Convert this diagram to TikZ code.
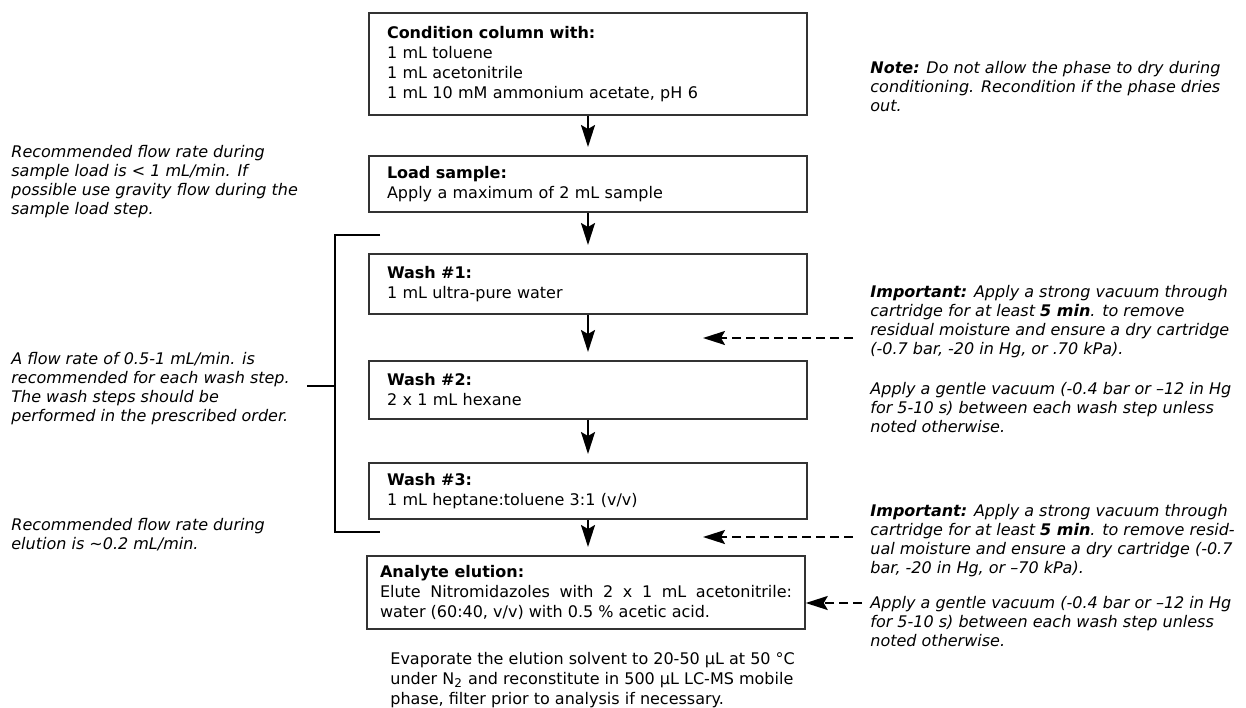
\documentclass[tikz,border=0pt]{standalone}
\usepackage{fontspec}
\setmainfont{DejaVu Sans}
\usetikzlibrary{arrows.meta}

\begin{document}
\begin{tikzpicture}[x=0.5pt,y=-0.5pt,
    >={Stealth[length=11pt,width=7pt,inset=2pt]},
    stepbox/.style={draw=black!80,line width=0.75pt,anchor=north,text width=201pt,
      inner xsep=9pt,inner ysep=0pt,align=left,font=\fontsize{8}{10}\selectfont},
    remark/.style={anchor=north west,inner sep=0pt,align=left,
      font=\fontsize{8}{9.5}\selectfont\itshape},
    flow/.style={->,line width=1pt,shorten >=4pt},
    vac/.style={->,line width=1pt,dash pattern=on 4.5pt off 2.5pt}]
    \useasboundingbox (0,0) rectangle (1246,707);
    % --- the steps, one under the other
    \node[stepbox,minimum height=51pt] (cond) at (588,12)
      {\textbf{Condition column with:}\\1 mL toluene\\1 mL acetonitrile\\1 mL 10 mM ammonium acetate, pH 6};
    \node[stepbox,minimum height=28pt] (load) at (588,155)
      {\textbf{Load sample:}\\Apply a maximum of 2 mL sample};
    \node[stepbox,minimum height=30pt] (wash1) at (588,253)
      {\textbf{Wash \#1:}\\1 mL ultra-pure water};
    \node[stepbox,minimum height=29pt] (wash2) at (588,360)
      {\textbf{Wash \#2:}\\2 x 1 mL hexane};
    \node[stepbox,minimum height=28pt] (wash3) at (588,462)
      {\textbf{Wash \#3:}\\1 mL heptane:toluene 3:1 (v/v)};
    \node[stepbox,minimum height=36.5pt,text width=206pt,inner xsep=6.5pt,align=justify] (elute) at (586,555)
      {\textbf{Analyte elution:}\\Elute Nitromidazoles with 2 x 1 mL acetonitrile:\linebreak water (60:40, v/v) with 0.5 \% acetic acid.};
    \node[anchor=north west,inner sep=0pt,align=left,font=\fontsize{8}{10}\selectfont] (evap) at (390,652)
      {Evaporate the elution solvent to 20-50 µL at 50 °C\\under N\textsubscript{2} and reconstitute in 500 µL LC-MS mobile\\phase, filter prior to analysis if necessary.};
    \draw[flow] (cond) -- (load);
    \draw[flow] (load) -- (wash1);
    \draw[flow] (wash1) -- (wash2);
    \draw[flow] (wash2) -- (wash3);
    \draw[flow] (wash3) -- (wash3 |- elute.north);
    % --- remarks on the left, bracket over the wash steps
    \node[remark] (rate1) at (11,145)
      {Recommended flow rate during\\sample load is < 1 mL/min. If\\possible use gravity flow during the\\sample load step.};
    \node[remark] (rate2) at (11,352)
      {A flow rate of 0.5-1 mL/min. is\\recommended for each wash step.\\The wash steps should be\\performed in the prescribed order.};
    \node[remark] (rate3) at (11,518)
      {Recommended flow rate during\\elution is \textasciitilde0.2 mL/min.};
    \draw[line width=1.3pt] (380,235) -| (335,532) -- (380,532);
    \draw[line width=1.3pt] (307,386) -- (335,386);
    % --- remarks on the right, vacuum steps
    \node[remark] (note) at (870,61)
      {\textbf{Note:} Do not allow the phase to dry during\\conditioning. Recondition if the phase dries\\out.};
    \node[remark] (imp1) at (870,285)
      {\textbf{Important:} Apply a strong vacuum through\\cartridge for at least \textbf{5 min}. to remove\\residual moisture and ensure a dry cartridge\\(-0.7 bar, -20 in Hg, or .70 kPa).};
    \node[remark] (soft1) at (870,382)
      {Apply a gentle vacuum (-0.4 bar or –12 in Hg\\for 5-10 s) between each wash step unless\\noted otherwise.};
    \node[remark] (imp2) at (870,504)
      {\textbf{Important:} Apply a strong vacuum through\\cartridge for at least \textbf{5 min}. to remove resid-\\ual moisture and ensure a dry cartridge (-0.7\\bar, -20 in Hg, or –70 kPa).};
    \node[remark] (soft2) at (870,596)
      {Apply a gentle vacuum (-0.4 bar or –12 in Hg\\for 5-10 s) between each wash step unless\\noted otherwise.};
    \coordinate (dry1) at (853,338);
    \coordinate (gap1) at (703,338);
    \coordinate (dry2) at (853,537);
    \coordinate (gap2) at (703,537);
    \coordinate (soft) at (862,603);
    \draw[vac] (dry1) -- (gap1);
    \draw[vac] (dry2) -- (gap2);
    \draw[vac] (soft) -- (soft -| elute.east);
  \end{tikzpicture}
\end{document}
